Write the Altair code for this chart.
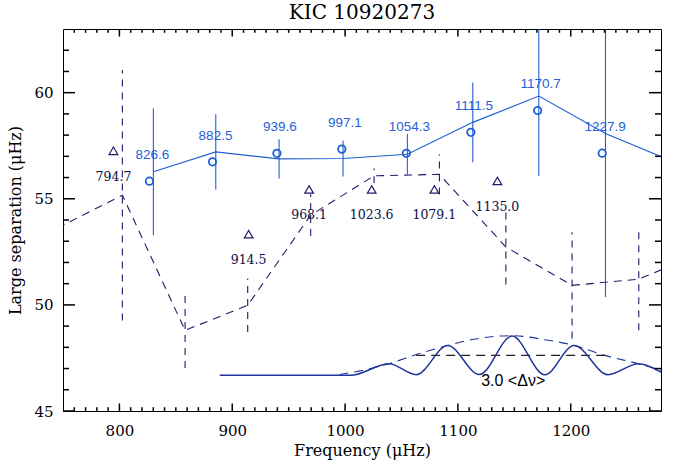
import altair as alt
import pandas as pd

# ---------------- data ----------------
# open circles (observed large separations) and their labels
obs_freq = [826.6, 882.5, 939.6, 997.1, 1054.3, 1111.5, 1170.7, 1227.9]
obs_dnu = [55.83, 56.74, 57.14, 57.34, 57.14, 58.13, 59.16, 57.15]
obs_label = ["826.6", "882.5", "939.6", "997.1", "1054.3", "1111.5", "1170.7", "1227.9"]

# solid blue line with error bars
fit_freq = [830.1, 885.4, 941.5, 998.2, 1055.2, 1113.2, 1171.7, 1230.8, 1290.0]
fit_dnu = [56.27, 57.21, 56.88, 56.90, 57.10, 58.60, 59.84, 58.08, 56.76]
fit_err = [2.99, 1.77, 0.92, 0.85, 0.96, 1.88, 3.77, 7.71, 0.0]

# open triangles and their labels
tri_freq = [794.7, 914.5, 968.1, 1023.6, 1079.1, 1135.0]
tri_dnu = [57.26, 53.33, 55.44, 55.44, 55.44, 55.84]
tri_label = ["794.7", "914.5", "968.1", "1023.6", "1079.1", "1135.0"]

# dashed navy line with dashed error bars
mod_freq = [745.0, 802.6, 858.2, 913.7, 969.5, 1025.7, 1083.6, 1142.5, 1201.2, 1260.3, 1320.0]
mod_dnu = [53.62, 55.17, 48.80, 49.98, 54.23, 56.08, 56.15, 52.73, 50.92, 51.21, 52.55]
mod_err = [0.0, 5.90, 1.77, 1.26, 0.98, 0.35, 0.95, 1.77, 2.50, 2.40, 0.0]

# oscillating curve at the bottom (extrema)
osc_freq = [889, 1005, 1039, 1063, 1091, 1119, 1148, 1177, 1203, 1233, 1260, 1280]
osc_val = [46.68, 46.68, 47.23, 46.71, 48.09, 46.72, 48.53, 46.71, 48.09, 46.71, 47.23, 46.83]

# dashed envelope
env_freq = [995, 1016, 1039, 1063, 1091, 1114, 1148, 1177, 1203, 1230, 1260, 1280]
env_val = [46.72, 46.92, 47.23, 47.66, 48.09, 48.38, 48.55, 48.36, 48.09, 47.62, 47.23, 46.92]

# black dashed width line and its label
half_freq = [1063, 1232]
half_val = [47.62, 47.62]
note_freq = [1149]
note_val = [46.41]
note_text = ["3.0  <Δν>"]

# axis ticks
x_major = [800, 900, 1000, 1100, 1200]
x_minor = [v for v in range(760, 1280, 10) if v % 100 != 0]
y_major = [45, 50, 55, 60]
y_minor = [v for v in range(46, 63) if v % 5 != 0]

# ---------------- chart ----------------
W, H = 598, 382
X0, X1, Y0, Y1 = 750, 1280, 45, 63
BLUE = "#1f5fd6"
NAVY = "#1c1c68"
CURVE = "#1f3399"
LABNAVY = "#0c0c44"
SERIF = "DejaVu Serif"

xs = alt.Scale(domain=[X0, X1], nice=False, zero=False)
ys = alt.Scale(domain=[Y0, Y1], nice=False, zero=False)
xaxis = alt.Axis(values=x_major, format="d", grid=False, ticks=False, domain=False,
                 labelFont=SERIF, labelFontSize=15, labelColor="black",
                 labelPadding=12, titleFont=SERIF, titleFontSize=16,
                 titleFontWeight="normal", titleColor="black", titlePadding=4)
yaxis = alt.Axis(values=y_major, format="d", grid=False, ticks=False, domain=False,
                 labelFont=SERIF, labelFontSize=15, labelColor="black",
                 labelPadding=10, titleFont=SERIF, titleFontSize=16,
                 titleFontWeight="normal", titleColor="black", titlePadding=10)
XT = "Frequency (μHz)"
YT = "Large separation (μHz)"


def X(f):
    return alt.X(f, type="quantitative", scale=xs, axis=xaxis, title=XT)


def Y(f):
    return alt.Y(f, type="quantitative", scale=ys, axis=yaxis, title=YT)


obs = pd.DataFrame({"f": obs_freq, "d": obs_dnu, "t": obs_label})
fit = pd.DataFrame({"f": fit_freq, "d": fit_dnu, "e": fit_err})
fit["lo"] = fit["d"] - fit["e"]
fit["hi"] = fit["d"] + fit["e"]
tri = pd.DataFrame({"f": tri_freq, "d": tri_dnu, "t": tri_label})
mod = pd.DataFrame({"f": mod_freq, "d": mod_dnu, "e": mod_err})
mod["lo"] = mod["d"] - mod["e"]
mod["hi"] = mod["d"] + mod["e"]
osc = pd.DataFrame({"f": osc_freq, "d": osc_val})
env = pd.DataFrame({"f": env_freq, "d": env_val})
half = pd.DataFrame({"f": half_freq, "d": half_val})
note = pd.DataFrame({"f": note_freq, "d": note_val, "t": note_text})

layers = []

# dashed model line + dashed error bars
layers.append(alt.Chart(mod).mark_line(color=NAVY, strokeWidth=1.1, strokeDash=[8, 6], clip=True).encode(
    x=X("f"), y=Y("d")))
layers.append(alt.Chart(mod).mark_rule(color=NAVY, strokeWidth=1.1, strokeDash=[7, 6], clip=True).encode(
    x=X("f"), y=Y("lo"), y2="hi"))

# blue fit line + error bars
layers.append(alt.Chart(fit).mark_line(color=BLUE, strokeWidth=1.1, clip=True).encode(
    x=X("f"), y=Y("d")))
layers.append(alt.Chart(fit).mark_rule(color=BLUE, strokeWidth=1.1, clip=True).encode(
    x=X("f"), y=Y("lo"), y2="hi"))

# circles + labels
layers.append(alt.Chart(obs).mark_point(shape="circle", filled=False, color=BLUE, size=55,
                                        strokeWidth=1.8, opacity=1, clip=True).encode(x=X("f"), y=Y("d")))
layers.append(alt.Chart(obs).mark_text(color=BLUE, font="Liberation Sans", fontSize=13.5,
                                       dy=-26, dx=3, baseline="middle").encode(
    x=X("f"), y=Y("d"), text="t:N"))

# triangles + labels
layers.append(alt.Chart(tri).mark_point(shape="triangle-up", filled=False, color=NAVY, size=75,
                                        strokeWidth=1.2, opacity=1, clip=True).encode(x=X("f"), y=Y("d")))
layers.append(alt.Chart(tri).mark_text(color=LABNAVY, font=SERIF, fontSize=12.5,
                                       dy=26, baseline="middle").encode(
    x=X("f"), y=Y("d"), text="t:N"))

# bottom oscillation, envelope, width line and label
layers.append(alt.Chart(env).mark_line(color=CURVE, strokeWidth=1.1, strokeDash=[9, 6],
                                       interpolate="monotone", clip=True).encode(x=X("f"), y=Y("d")))
layers.append(alt.Chart(half).mark_line(color="#222222", strokeWidth=1.1, strokeDash=[9, 6],
                                        clip=True).encode(x=X("f"), y=Y("d")))
layers.append(alt.Chart(osc).mark_line(color=CURVE, strokeWidth=1.5, interpolate="monotone",
                                       clip=True).encode(x=X("f"), y=Y("d")))
layers.append(alt.Chart(note).mark_text(color="black", font="Liberation Sans", fontSize=16,
                                        baseline="middle").encode(x=X("f"), y=Y("d"), text="t:N"))

# inward ticks (IDL style) on all four sides; pixel lengths converted to data units
px_x = (X1 - X0) / W
px_y = (Y1 - Y0) / H
xt = pd.DataFrame({"v": x_major + x_minor,
                   "len": [7.5] * len(x_major) + [3.8] * len(x_minor)})
xt["b0"] = Y0
xt["b1"] = Y0 + xt["len"] * px_y
xt["t0"] = Y1
xt["t1"] = Y1 - xt["len"] * px_y
yt = pd.DataFrame({"v": y_major + y_minor,
                   "len": [12.0] * len(y_major) + [6.0] * len(y_minor)})
yt["l0"] = X0
yt["l1"] = X0 + yt["len"] * px_x
yt["r0"] = X1
yt["r1"] = X1 - yt["len"] * px_x

TK = dict(color="#000000", strokeWidth=1.5)
layers.append(alt.Chart(xt).mark_rule(**TK).encode(
    x=alt.X("v:Q", scale=xs, axis=xaxis, title=XT), y=alt.Y("b0:Q", scale=ys, axis=yaxis, title=YT), y2="b1:Q"))
layers.append(alt.Chart(xt).mark_rule(**TK).encode(
    x=alt.X("v:Q", scale=xs, axis=xaxis, title=XT), y=alt.Y("t0:Q", scale=ys, axis=yaxis, title=YT), y2="t1:Q"))
layers.append(alt.Chart(yt).mark_rule(**TK).encode(
    y=alt.Y("v:Q", scale=ys, axis=yaxis, title=YT), x=alt.X("l0:Q", scale=xs, axis=xaxis, title=XT), x2="l1:Q"))
layers.append(alt.Chart(yt).mark_rule(**TK).encode(
    y=alt.Y("v:Q", scale=ys, axis=yaxis, title=YT), x=alt.X("r0:Q", scale=xs, axis=xaxis, title=XT), x2="r1:Q"))

chart = alt.layer(*layers).properties(
    width=W, height=H,
    title=alt.TitleParams("KIC 10920273", font=SERIF, fontSize=20, fontWeight="normal",
                          color="black", offset=5, anchor="middle"),
    autosize=alt.AutoSizeParams(type="none"),
    padding={"left": 63, "top": 29, "right": 19, "bottom": 55},
    background="white",
).configure_view(stroke="black", strokeWidth=1)

chart.save("out.html", embed_options={"renderer": "svg", "actions": False})
